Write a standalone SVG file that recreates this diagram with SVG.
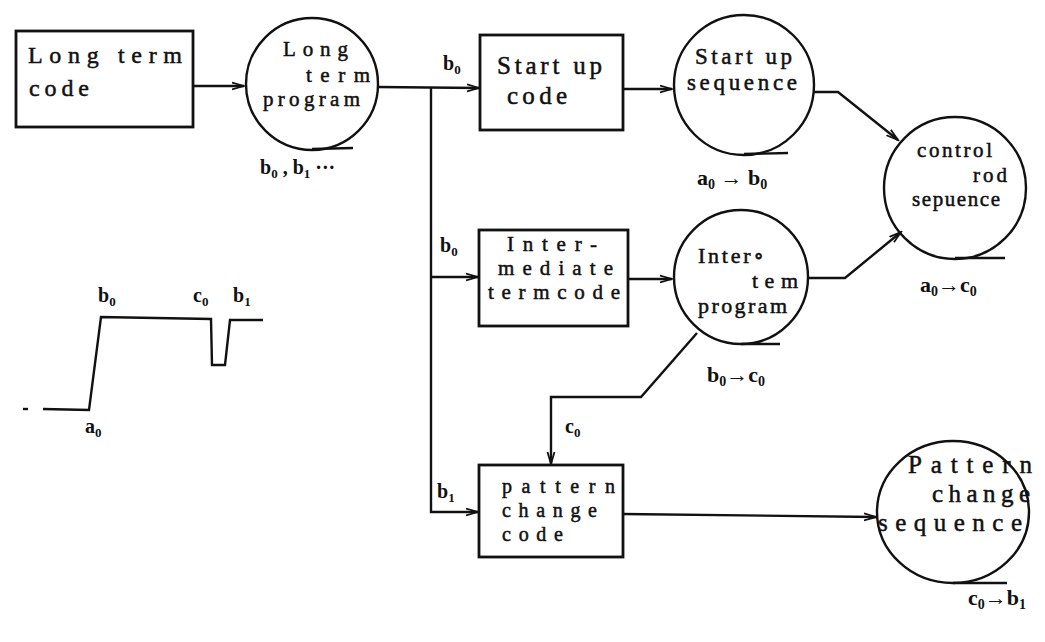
<svg xmlns="http://www.w3.org/2000/svg" width="1045" height="642" viewBox="0 0 1045 642" font-family="Liberation Serif, DejaVu Serif, serif">
<defs>
<style>
.box{fill:none;stroke:#111;stroke-width:2.8}
.circ{fill:none;stroke:#111;stroke-width:2.4}
.ln{fill:none;stroke:#111;stroke-width:2.4}
.nodetxt{font-family:"Liberation Serif","DejaVu Serif",serif;fill:#111;stroke:#111;stroke-width:0.5}
.lab{font-family:"Liberation Serif","DejaVu Serif",serif;fill:#111;font-weight:bold}
</style>
<marker id="arr" markerWidth="14" markerHeight="10" refX="12" refY="5" orient="auto" markerUnits="userSpaceOnUse">
<path d="M0,1.5 L12,5 L0,8.5" fill="none" stroke="#111" stroke-width="1.8"/>
</marker>
</defs>
<rect width="1045" height="642" fill="#fff"/>

<g id="connectors">
<line class="ln" x1="193" y1="86" x2="244" y2="86" marker-end="url(#arr)"/>
<line class="ln" x1="378" y1="87" x2="479" y2="88" marker-end="url(#arr)"/>
<polyline class="ln" points="431,87 431,512 478,512" marker-end="url(#arr)"/>
<line class="ln" x1="431" y1="277" x2="478" y2="277" marker-end="url(#arr)"/>
<line class="ln" x1="623" y1="89" x2="672" y2="89" marker-end="url(#arr)"/>
<line class="ln" x1="628" y1="279" x2="672" y2="279" marker-end="url(#arr)"/>
<polyline class="ln" points="813,92 838,92 898,140" marker-end="url(#arr)"/>
<polyline class="ln" points="808,278 845,278 901,232" marker-end="url(#arr)"/>
<polyline class="ln" points="697,333 641,397 551,397 551,464" marker-end="url(#arr)"/>
<line class="ln" x1="623" y1="514" x2="876" y2="517" marker-end="url(#arr)"/>
</g>

<g id="long-term-code">
<rect class="box" x="16" y="31" width="177" height="96"/>
<text class="nodetxt" font-size="24" x="28" y="63" textLength="154" lengthAdjust="spacing">Long term</text>
<text class="nodetxt" font-size="24" x="29" y="96" textLength="60" lengthAdjust="spacing">code</text>
</g>

<g id="long-term-program">
<circle class="circ" cx="312" cy="84" r="66"/>
<line class="ln" x1="312" y1="149" x2="353" y2="148"/>
<text class="nodetxt" font-size="21" x="283" y="56" textLength="65" lengthAdjust="spacing">Long</text>
<text class="nodetxt" font-size="21" x="306" y="82" textLength="64" lengthAdjust="spacing">term</text>
<text class="nodetxt" font-size="21" x="263" y="106" textLength="97" lengthAdjust="spacing">program</text>
<text class="lab" font-size="20" x="260" y="174">b<tspan font-size="13" dy="4">0</tspan><tspan dy="-4"> , b</tspan><tspan font-size="13" dy="4">1</tspan><tspan dy="-4"> ···</tspan></text>
</g>

<g id="start-up-code">
<rect class="box" x="480" y="35" width="143" height="95"/>
<text class="nodetxt" font-size="25" x="497" y="74" textLength="105" lengthAdjust="spacing">Start up</text>
<text class="nodetxt" font-size="25" x="507" y="104" textLength="60" lengthAdjust="spacing">code</text>
<text class="lab" font-size="20" x="443" y="70">b<tspan font-size="13" dy="4">0</tspan></text>
</g>

<g id="start-up-sequence">
<circle class="circ" cx="744" cy="85" r="70"/>
<line class="ln" x1="744" y1="154" x2="788" y2="153"/>
<text class="nodetxt" font-size="23" x="695" y="64" textLength="97" lengthAdjust="spacing">Start up</text>
<text class="nodetxt" font-size="23" x="687" y="90" textLength="110" lengthAdjust="spacing">sequence</text>
<text class="lab" font-size="22" x="697" y="185">a<tspan font-size="14" dy="4">0</tspan><tspan dy="-4"> → b</tspan><tspan font-size="14" dy="4">0</tspan></text>
</g>

<g id="control-rod-sequence">
<circle class="circ" cx="955" cy="188" r="71"/>
<line class="ln" x1="955" y1="258" x2="1005" y2="258"/>
<text class="nodetxt" font-size="21" x="917" y="157" textLength="75" lengthAdjust="spacing">control</text>
<text class="nodetxt" font-size="21" x="973" y="182" textLength="34" lengthAdjust="spacing">rod</text>
<text class="nodetxt" font-size="21" x="912" y="206" textLength="88" lengthAdjust="spacing">sepuence</text>
<text class="lab" font-size="22" x="920" y="292">a<tspan font-size="14" dy="4">0</tspan><tspan dy="-4">→c</tspan><tspan font-size="14" dy="4">0</tspan></text>
</g>

<g id="intermediate-term-code">
<rect class="box" x="479" y="230" width="149" height="96"/>
<text class="nodetxt" font-size="21" x="507" y="251" textLength="90" lengthAdjust="spacing">Inter-</text>
<text class="nodetxt" font-size="21" x="498" y="275" textLength="115" lengthAdjust="spacing">mediate</text>
<text class="nodetxt" font-size="21" x="488" y="299" textLength="132" lengthAdjust="spacing">termcode</text>
<text class="lab" font-size="20" x="440" y="252">b<tspan font-size="13" dy="4">0</tspan></text>
</g>

<g id="inter-term-program">
<circle class="circ" cx="741" cy="277" r="67"/>
<line class="ln" x1="741" y1="344" x2="780" y2="344"/>
<text class="nodetxt" font-size="22" x="698" y="263" textLength="66" lengthAdjust="spacing">Inter∘</text>
<text class="nodetxt" font-size="22" x="752" y="288" textLength="46" lengthAdjust="spacing">tem</text>
<text class="nodetxt" font-size="22" x="698" y="313" textLength="89" lengthAdjust="spacing">program</text>
<text class="lab" font-size="22" x="707" y="382">b<tspan font-size="14" dy="4">0</tspan><tspan dy="-4">→c</tspan><tspan font-size="14" dy="4">0</tspan></text>
</g>

<g id="pattern-change-code">
<rect class="box" x="479" y="465" width="144" height="92"/>
<text class="nodetxt" font-size="20" x="502" y="493" textLength="113" lengthAdjust="spacing">pattern</text>
<text class="nodetxt" font-size="20" x="502" y="517" textLength="95" lengthAdjust="spacing">change</text>
<text class="nodetxt" font-size="20" x="502" y="541" textLength="61" lengthAdjust="spacing">code</text>
<text class="lab" font-size="20" x="437" y="498">b<tspan font-size="13" dy="4">1</tspan></text>
<text class="lab" font-size="20" x="565" y="433">c<tspan font-size="13" dy="4">0</tspan></text>
</g>

<g id="pattern-change-sequence">
<ellipse class="circ" cx="953" cy="512" rx="76" ry="71"/>
<line class="ln" x1="953" y1="583" x2="1007" y2="583"/>
<text class="nodetxt" font-size="25" x="908" y="473" textLength="124" lengthAdjust="spacing">Pattern</text>
<text class="nodetxt" font-size="25" x="932" y="502" textLength="98" lengthAdjust="spacing">change</text>
<text class="nodetxt" font-size="25" x="878" y="531" textLength="144" lengthAdjust="spacing">sequence</text>
<text class="lab" font-size="22" x="968" y="605">c<tspan font-size="14" dy="4">0</tspan><tspan dy="-4">→b</tspan><tspan font-size="14" dy="4">1</tspan></text>
</g>

<g id="waveform">
<line class="ln" x1="23" y1="409" x2="28" y2="409"/>
<polyline class="ln" points="43,409 89,410 101,317 211,319 212,365 225,365 230,320 263,320"/>
<text class="lab" font-size="20" x="98" y="302">b<tspan font-size="13" dy="4">0</tspan></text>
<text class="lab" font-size="20" x="193" y="302">c<tspan font-size="13" dy="4">0</tspan></text>
<text class="lab" font-size="20" x="233" y="302">b<tspan font-size="13" dy="4">1</tspan></text>
<text class="lab" font-size="20" x="85" y="433">a<tspan font-size="13" dy="4">0</tspan></text>
</g>
</svg>
